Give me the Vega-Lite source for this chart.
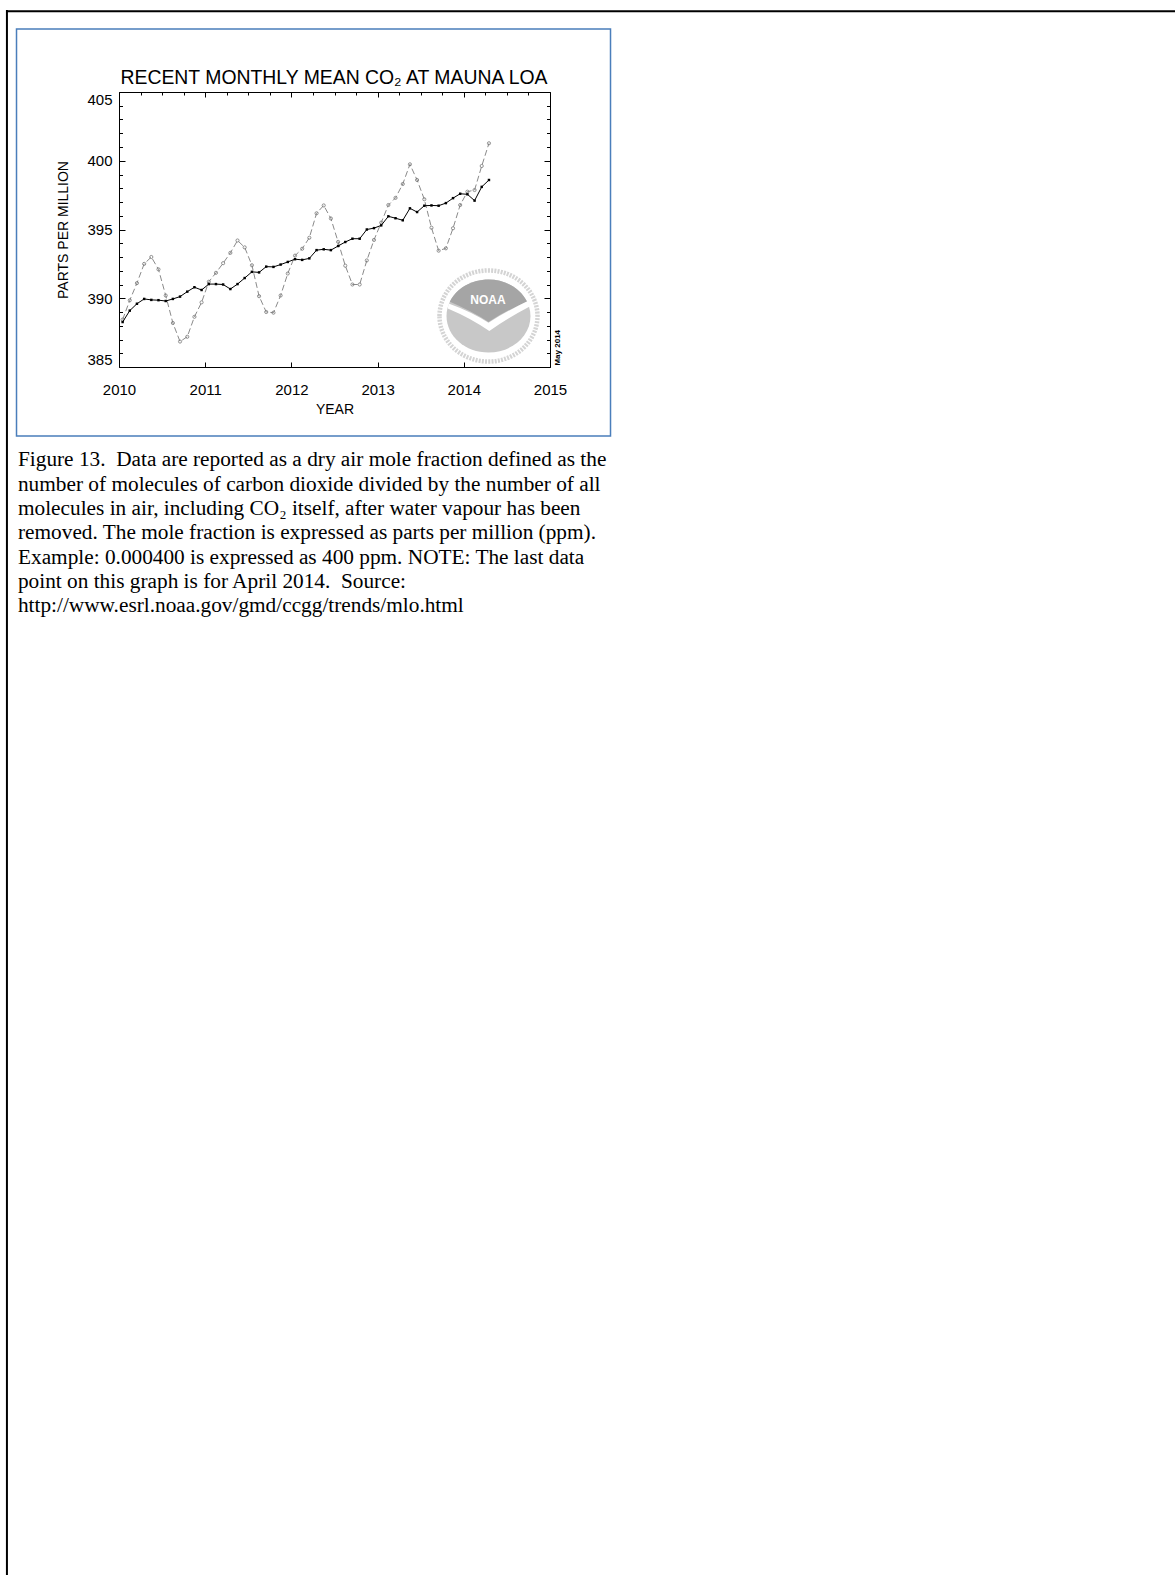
{
  "$schema": "https://vega.github.io/schema/vega-lite/v6.json",
  "autosize": {"type": "none"},
  "width": 431,
  "height": 275,
  "padding": {"left": 119, "top": 92, "right": 625, "bottom": 1208},
  "background": "#ffffff",
  "config": {"view": {"stroke": "#000000", "strokeWidth": 1}},
  "data": {"values": [
    {"year": 2010.042, "monthly": 388.45, "trend": 388.27},
    {"year": 2010.125, "monthly": 389.85, "trend": 389.1},
    {"year": 2010.208, "monthly": 391.1, "trend": 389.6},
    {"year": 2010.292, "monthly": 392.5, "trend": 389.95},
    {"year": 2010.375, "monthly": 393.0, "trend": 389.88},
    {"year": 2010.458, "monthly": 392.1, "trend": 389.86},
    {"year": 2010.542, "monthly": 390.2, "trend": 389.8},
    {"year": 2010.625, "monthly": 388.2, "trend": 389.95},
    {"year": 2010.708, "monthly": 386.85, "trend": 390.12},
    {"year": 2010.792, "monthly": 387.2, "trend": 390.48},
    {"year": 2010.875, "monthly": 388.65, "trend": 390.8},
    {"year": 2010.958, "monthly": 389.7, "trend": 390.6},
    {"year": 2011.042, "monthly": 391.2, "trend": 391.03},
    {"year": 2011.125, "monthly": 391.85, "trend": 391.03},
    {"year": 2011.208, "monthly": 392.55, "trend": 391.0},
    {"year": 2011.292, "monthly": 393.3, "trend": 390.67},
    {"year": 2011.375, "monthly": 394.2, "trend": 391.03},
    {"year": 2011.458, "monthly": 393.7, "trend": 391.47},
    {"year": 2011.542, "monthly": 392.4, "trend": 391.92},
    {"year": 2011.625, "monthly": 390.15, "trend": 391.88},
    {"year": 2011.708, "monthly": 389.0, "trend": 392.3},
    {"year": 2011.792, "monthly": 388.95, "trend": 392.28},
    {"year": 2011.875, "monthly": 390.2, "trend": 392.45},
    {"year": 2011.958, "monthly": 391.8, "trend": 392.64},
    {"year": 2012.042, "monthly": 393.1, "trend": 392.84},
    {"year": 2012.125, "monthly": 393.6, "trend": 392.79},
    {"year": 2012.208, "monthly": 394.4, "trend": 392.9},
    {"year": 2012.292, "monthly": 396.18, "trend": 393.5},
    {"year": 2012.375, "monthly": 396.75, "trend": 393.56},
    {"year": 2012.458, "monthly": 395.8, "trend": 393.5},
    {"year": 2012.542, "monthly": 394.1, "trend": 393.8},
    {"year": 2012.625, "monthly": 392.37, "trend": 394.09},
    {"year": 2012.708, "monthly": 391.0, "trend": 394.33},
    {"year": 2012.792, "monthly": 391.0, "trend": 394.33},
    {"year": 2012.875, "monthly": 392.75, "trend": 395.0},
    {"year": 2012.958, "monthly": 394.24, "trend": 395.1},
    {"year": 2013.042, "monthly": 395.5, "trend": 395.3},
    {"year": 2013.125, "monthly": 396.78, "trend": 395.96},
    {"year": 2013.208, "monthly": 397.3, "trend": 395.82},
    {"year": 2013.292, "monthly": 398.31, "trend": 395.67},
    {"year": 2013.375, "monthly": 399.74, "trend": 396.54},
    {"year": 2013.458, "monthly": 398.6, "trend": 396.27},
    {"year": 2013.542, "monthly": 397.2, "trend": 396.73},
    {"year": 2013.625, "monthly": 395.13, "trend": 396.75},
    {"year": 2013.708, "monthly": 393.46, "trend": 396.73},
    {"year": 2013.792, "monthly": 393.63, "trend": 396.92},
    {"year": 2013.875, "monthly": 395.09, "trend": 397.28},
    {"year": 2013.958, "monthly": 396.78, "trend": 397.6},
    {"year": 2014.042, "monthly": 397.75, "trend": 397.56},
    {"year": 2014.125, "monthly": 397.87, "trend": 397.1},
    {"year": 2014.208, "monthly": 399.62, "trend": 398.1},
    {"year": 2014.292, "monthly": 401.27, "trend": 398.6}
  ]},
  "resolve": {"axis": {"x": "independent", "y": "independent"}},
  "layer": [
    {
      "mark": {"type": "line", "color": "#8a8a8a", "strokeWidth": 1, "strokeDash": [6, 3]},
      "encoding": {
        "x": {
          "field": "year", "type": "quantitative",
          "scale": {"domain": [2010, 2015], "nice": false, "zero": false},
          "axis": {
            "orient": "bottom", "title": "YEAR", "domain": false, "grid": false,
            "values": [2010, 2010.25, 2010.5, 2010.75, 2011, 2011.25, 2011.5, 2011.75, 2012, 2012.25, 2012.5, 2012.75, 2013, 2013.25, 2013.5, 2013.75, 2014, 2014.25, 2014.5, 2014.75, 2015],
            "format": "d",
            "labelExpr": "datum.value % 1 === 0 ? datum.label : ''",
            "labelOverlap": false, "labelFlush": false, "labelBound": false,
            "tickColor": "#000000", "tickWidth": 1,
            "tickSize": {"condition": {"test": "datum.value % 1 === 0", "value": -5}, "value": -3},
            "labelPadding": 20,
            "labelFont": "Liberation Sans", "labelFontSize": 15, "labelColor": "#000000",
            "titleFont": "Liberation Sans", "titleFontSize": 14, "titleFontWeight": "normal", "titleColor": "#000000",
            "titlePadding": 5
          }
        },
        "y": {
          "field": "monthly", "type": "quantitative",
          "scale": {"domain": [385, 405], "nice": false, "zero": false},
          "axis": {
            "orient": "left", "title": "PARTS PER MILLION", "domain": false, "grid": false,
            "values": [385, 386, 387, 388, 389, 390, 391, 392, 393, 394, 395, 396, 397, 398, 399, 400, 401, 402, 403, 404, 405],
            "labelExpr": "datum.value % 5 === 0 ? datum.label : ''",
            "labelOverlap": false, "labelFlush": true, "labelFlushOffset": 0, "labelBound": false,
            "tickColor": "#000000", "tickWidth": 1,
            "tickSize": {"condition": {"test": "datum.value % 5 === 0", "value": -6}, "value": -3.5},
            "labelPadding": 13,
            "labelFont": "Liberation Sans", "labelFontSize": 15, "labelColor": "#000000",
            "titleFont": "Liberation Sans", "titleFontSize": 14, "titleFontWeight": "normal", "titleColor": "#000000",
            "titlePadding": 16
          }
        }
      }
    },
    {
      "mark": {"type": "point", "shape": "circle", "filled": false, "size": 10, "color": "#777777", "strokeWidth": 0.8, "opacity": 1},
      "encoding": {
        "x": {
          "field": "year", "type": "quantitative",
          "axis": {
            "orient": "top", "title": null, "domain": false, "grid": false, "labels": false,
            "values": [2010, 2010.25, 2010.5, 2010.75, 2011, 2011.25, 2011.5, 2011.75, 2012, 2012.25, 2012.5, 2012.75, 2013, 2013.25, 2013.5, 2013.75, 2014, 2014.25, 2014.5, 2014.75, 2015],
            "tickColor": "#000000", "tickWidth": 1,
            "tickSize": {"condition": {"test": "datum.value % 1 === 0", "value": -5}, "value": -3}
          }
        },
        "y": {
          "field": "monthly", "type": "quantitative",
          "axis": {
            "orient": "right", "title": null, "domain": false, "grid": false, "labels": false,
            "values": [385, 386, 387, 388, 389, 390, 391, 392, 393, 394, 395, 396, 397, 398, 399, 400, 401, 402, 403, 404, 405],
            "tickColor": "#000000", "tickWidth": 1,
            "tickSize": {"condition": {"test": "datum.value % 5 === 0", "value": -6}, "value": -3.5}
          }
        }
      }
    },
    {
      "mark": {"type": "line", "color": "#000000", "strokeWidth": 1},
      "encoding": {
        "x": {"field": "year", "type": "quantitative", "axis": null},
        "y": {"field": "trend", "type": "quantitative", "axis": null}
      }
    },
    {
      "mark": {"type": "point", "shape": "square", "filled": true, "size": 6, "color": "#000000", "opacity": 1},
      "encoding": {
        "x": {"field": "year", "type": "quantitative", "axis": null},
        "y": {"field": "trend", "type": "quantitative", "axis": null}
      }
    },
    {
      "data": {"values": [{}]},
      "mark": {"type": "rule", "color": "#000000", "strokeWidth": 2},
      "encoding": {
        "x": {"datum": 2008.7, "axis": null},
        "y": {"datum": 410.96, "axis": null},
        "y2": {"datum": 297.1}
      }
    },
    {
      "data": {"values": [{}]},
      "mark": {"type": "rule", "color": "#000000", "strokeWidth": 2},
      "encoding": {
        "x": {"datum": 2008.69, "axis": null},
        "x2": {"datum": 2022.26},
        "y": {"datum": 410.87, "axis": null}
      }
    },
    {
      "data": {"values": [{}]},
      "mark": {"type": "rect", "filled": false, "color": "#4a7ebb", "strokeWidth": 1.5},
      "encoding": {
        "x": {"datum": 2008.811, "axis": null},
        "x2": {"datum": 2015.702},
        "y": {"datum": 409.582, "axis": null},
        "y2": {"datum": 379.982}
      }
    },
    {
      "data": {"values": [{}]},
      "mark": {"type": "point", "shape": "M-1,0A1,0.93 0 1,1 1,0A1,0.93 0 1,1 -1,0Z", "filled": false, "size": 9604, "color": "#d4d4d4", "strokeWidth": 4.5, "strokeDash": [2, 1.2], "opacity": 1},
      "encoding": {
        "x": {"datum": 2014.2865, "axis": null},
        "y": {"datum": 388.709, "axis": null}
      }
    },
    {
      "data": {"values": [{}]},
      "mark": {"type": "point", "shape": "M-1,0A1,0.87 0 1,1 1,0A1,0.87 0 1,1 -1,0Z", "filled": true, "size": 7056, "color": "#c8c8c8", "opacity": 1},
      "encoding": {
        "x": {"datum": 2014.2865, "axis": null},
        "y": {"datum": 388.709, "axis": null}
      }
    },
    {
      "data": {"values": [{}]},
      "mark": {"type": "point", "shape": "M-0.92,-0.34A1,0.87 0 0,1 0.92,-0.34Q0.4,-0.12 0,0.14Q-0.4,-0.12 -0.92,-0.34Z", "filled": true, "size": 7056, "color": "#a5a5a5", "opacity": 1},
      "encoding": {
        "x": {"datum": 2014.2865, "axis": null},
        "y": {"datum": 388.709, "axis": null}
      }
    },
    {
      "data": {"values": [{}]},
      "mark": {"type": "point", "shape": "M-0.95,-0.3Q-0.4,-0.1 0,0.16Q0.4,-0.1 1.02,-0.4L0.97,-0.22Q0.4,0.08 0.02,0.36Q-0.4,0.06 -0.97,-0.18Z", "filled": true, "size": 7056, "color": "#ffffff", "opacity": 1},
      "encoding": {
        "x": {"datum": 2014.2865, "axis": null},
        "y": {"datum": 388.709, "axis": null}
      }
    },
    {
      "data": {"values": [{}]},
      "mark": {"type": "text", "text": "NOAA", "font": "Liberation Sans", "fontSize": 12, "fontWeight": "bold", "color": "#ffffff", "align": "center", "baseline": "middle"},
      "encoding": {
        "x": {"datum": 2014.28, "axis": null},
        "y": {"datum": 389.873, "axis": null}
      }
    },
    {
      "data": {"values": [{}]},
      "mark": {"type": "text", "text": "May 2014", "font": "Liberation Sans", "fontSize": 8, "fontWeight": "bold", "color": "#000000", "align": "center", "baseline": "middle", "angle": 270},
      "encoding": {
        "x": {"datum": 2015.095, "axis": null},
        "y": {"datum": 386.4, "axis": null}
      }
    },
    {
      "data": {"values": [{}]},
      "mark": {"type": "text", "text": "RECENT MONTHLY MEAN CO₂ AT MAUNA LOA", "font": "Liberation Sans", "fontSize": 19.4, "color": "#000000", "align": "center", "baseline": "alphabetic"},
      "encoding": {
        "x": {"datum": 2012.494, "axis": null},
        "y": {"datum": 405.55, "axis": null}
      }
    },
    {
      "data": {"values": [{}]},
      "mark": {
        "type": "text",
        "text": [
          "Figure 13.\u00a0 Data are reported as a dry air mole fraction defined as the",
          "number of molecules of carbon dioxide divided by the number of all",
          "molecules in air, including CO₂ itself, after water vapour has been",
          "removed. The mole fraction is expressed as parts per million (ppm).",
          "Example: 0.000400 is expressed as 400 ppm. NOTE: The last data",
          "point on this graph is for April 2014.\u00a0 Source:",
          "http://www.esrl.noaa.gov/gmd/ccgg/trends/mlo.html"
        ],
        "font": "Liberation Serif", "fontSize": 21.3, "lineHeight": 24.3, "color": "#000000", "align": "left", "baseline": "alphabetic"
      },
      "encoding": {
        "x": {"datum": 2008.828, "axis": null},
        "y": {"datum": 377.764, "axis": null}
      }
    }
  ]
}
